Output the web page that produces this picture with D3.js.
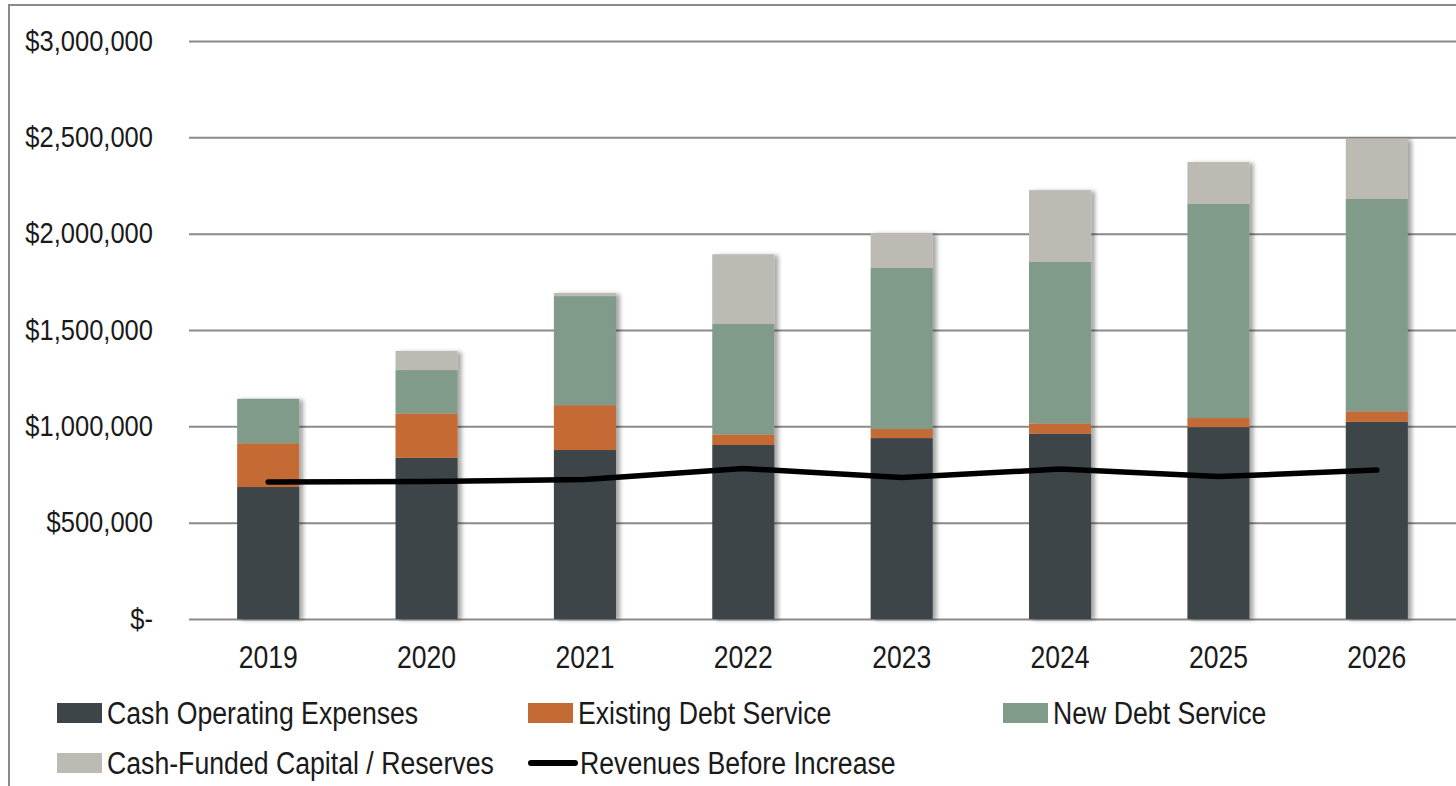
<!DOCTYPE html>
<html>
<head>
<meta charset="utf-8">
<script src="https://cdn.jsdelivr.net/npm/d3@7"></script>
<style>
  html, body { margin: 0; padding: 0; background: #fff; }
  svg { display: block; }
  text { font-family: "Liberation Sans", Arial, sans-serif; fill: #1a1a1a; }
</style>
</head>
<body>
<svg id="chart" width="1456" height="786"></svg>
<script>
// Fiscal years on the x axis
const years = ["2019", "2020", "2021", "2022", "2023", "2024", "2025", "2026"];

// Revenue requirement components (stacked, bottom to top)
const cashOperatingExpenses = [685000, 837000, 877000, 903000, 939000, 962000, 996000, 1024000];
const existingDebtService   = [227000, 230000, 233000, 55000, 47000, 53000, 47000, 54000];
const newDebtService        = [231000, 225000, 566000, 573000, 836000, 838000, 1111000, 1102000];
const cashFundedCapital     = [0, 99000, 16000, 362000, 181000, 373000, 218000, 313000];

// Revenues under current rates
const revenuesBeforeIncrease = [711000, 714000, 724000, 781000, 735000, 778000, 739000, 773000];

// Axis ticks
const yTicks = [0, 500000, 1000000, 1500000, 2000000, 2500000, 3000000];

const seriesNames = ["Cash Operating Expenses", "Existing Debt Service", "New Debt Service", "Cash-Funded Capital / Reserves"];
const seriesColors = ["#3e4548", "#c36a35", "#819b8b", "#bdbab3"];
const lineName = "Revenues Before Increase";

const rows = years.map((y, i) => ({
  year: y,
  "Cash Operating Expenses": cashOperatingExpenses[i],
  "Existing Debt Service": existingDebtService[i],
  "New Debt Service": newDebtService[i],
  "Cash-Funded Capital / Reserves": cashFundedCapital[i],
  revenue: revenuesBeforeIncrease[i]
}));

// Condense text horizontally (narrow sans look) while keeping its height
function condense(sel, factor) {
  sel.each(function () {
    const len = this.getComputedTextLength();
    d3.select(this)
      .attr("textLength", (len * factor).toFixed(1))
      .attr("lengthAdjust", "spacingAndGlyphs");
  });
}

const svg = d3.select("#chart");
const W = 1456, H = 786;
const plot = { left: 189, right: 1456, top: 41, bottom: 619 };

// Outer frame (top and left edges visible)
svg.append("path")
  .attr("d", `M9,${H} L9,5 L${W},5`)
  .attr("fill", "none")
  .attr("stroke", "#8a8a8a")
  .attr("stroke-width", 2);

const x = d3.scaleBand()
  .domain(years)
  .range([plot.left, plot.right])
  .paddingInner(0.608)
  .paddingOuter(0.304);

const y = d3.scaleLinear()
  .domain([0, 3000000])
  .range([plot.bottom, plot.top]);

const money = d3.format(",");

// Y axis with full-width gridlines
const yAxis = svg.append("g")
  .attr("transform", `translate(${plot.left},0)`)
  .call(d3.axisLeft(y)
    .tickValues(yTicks)
    .tickSizeInner(-(plot.right - plot.left))
    .tickSizeOuter(0)
    .tickPadding(36)
    .tickFormat(v => v === 0 ? "$-" : "$" + money(v)));
yAxis.select(".domain").remove();
yAxis.selectAll(".tick line").attr("stroke", "#8a8a8a").attr("stroke-width", 2);
yAxis.selectAll(".tick text")
  .attr("font-size", 29)
  .attr("fill", "#1a1a1a")
  .attr("font-family", null)
  .call(condense, 0.88);

// X axis labels
const xAxis = svg.append("g")
  .attr("transform", `translate(0,${plot.bottom})`)
  .call(d3.axisBottom(x).tickSize(0).tickPadding(26));
xAxis.select(".domain").remove();
xAxis.selectAll(".tick text")
  .attr("font-size", 32)
  .attr("fill", "#1a1a1a")
  .attr("font-family", null)
  .call(condense, 0.83);

// Soft shadow cast by the columns
const defs = svg.append("defs");
const shadow = defs.append("filter")
  .attr("id", "colShadow")
  .attr("x", "-20%").attr("y", "-5%")
  .attr("width", "150%").attr("height", "110%");
shadow.append("feDropShadow")
  .attr("dx", 4).attr("dy", 1)
  .attr("stdDeviation", 2)
  .attr("flood-color", "#000")
  .attr("flood-opacity", 0.35);

// Stacked columns
const stack = d3.stack().keys(seriesNames);
const stacked = stack(rows);

const bars = svg.append("g").attr("filter", "url(#colShadow)");
bars.selectAll("g.series")
  .data(stacked)
  .join("g")
  .attr("class", "series")
  .attr("fill", (d, i) => seriesColors[i])
  .selectAll("rect")
  .data(d => d.filter(s => s[1] > s[0]))
  .join("rect")
  .attr("x", d => x(d.data.year))
  .attr("width", x.bandwidth())
  .attr("y", d => y(d[1]))
  .attr("height", d => y(d[0]) - y(d[1]));

// Revenue line
const line = d3.line()
  .x(d => x(d.year) + x.bandwidth() / 2)
  .y(d => y(d.revenue));

svg.append("path")
  .datum(rows)
  .attr("d", line)
  .attr("fill", "none")
  .attr("stroke", "#000")
  .attr("stroke-width", 5.5)
  .attr("stroke-linecap", "round")
  .attr("stroke-linejoin", "round");

// Legend
const legendItems = [
  { name: seriesNames[0], color: seriesColors[0], type: "rect", col: 0, row: 0 },
  { name: seriesNames[1], color: seriesColors[1], type: "rect", col: 1, row: 0 },
  { name: seriesNames[2], color: seriesColors[2], type: "rect", col: 2, row: 0 },
  { name: seriesNames[3], color: seriesColors[3], type: "rect", col: 0, row: 1 },
  { name: lineName, color: "#000", type: "line", col: 1, row: 1 }
];
const colX = [57, 528, 1003];
const rowY = [713, 763];

const legend = svg.append("g");
const li = legend.selectAll("g")
  .data(legendItems)
  .join("g")
  .attr("transform", d => `translate(${colX[d.col]},${rowY[d.row]})`);

li.filter(d => d.type === "rect")
  .append("rect")
  .attr("x", 0).attr("y", -10)
  .attr("width", 45).attr("height", 20)
  .attr("fill", d => d.color);

li.filter(d => d.type === "line")
  .append("line")
  .attr("x1", 3).attr("x2", 47)
  .attr("y1", 0).attr("y2", 0)
  .attr("stroke", "#000")
  .attr("stroke-width", 6)
  .attr("stroke-linecap", "round");

li.append("text")
  .attr("x", d => d.type === "line" ? 52 : 50)
  .attr("y", 0)
  .attr("dy", "0.35em")
  .attr("font-size", 31)
  .text(d => d.name)
  .call(condense, 0.86);
</script>
</body>
</html>
